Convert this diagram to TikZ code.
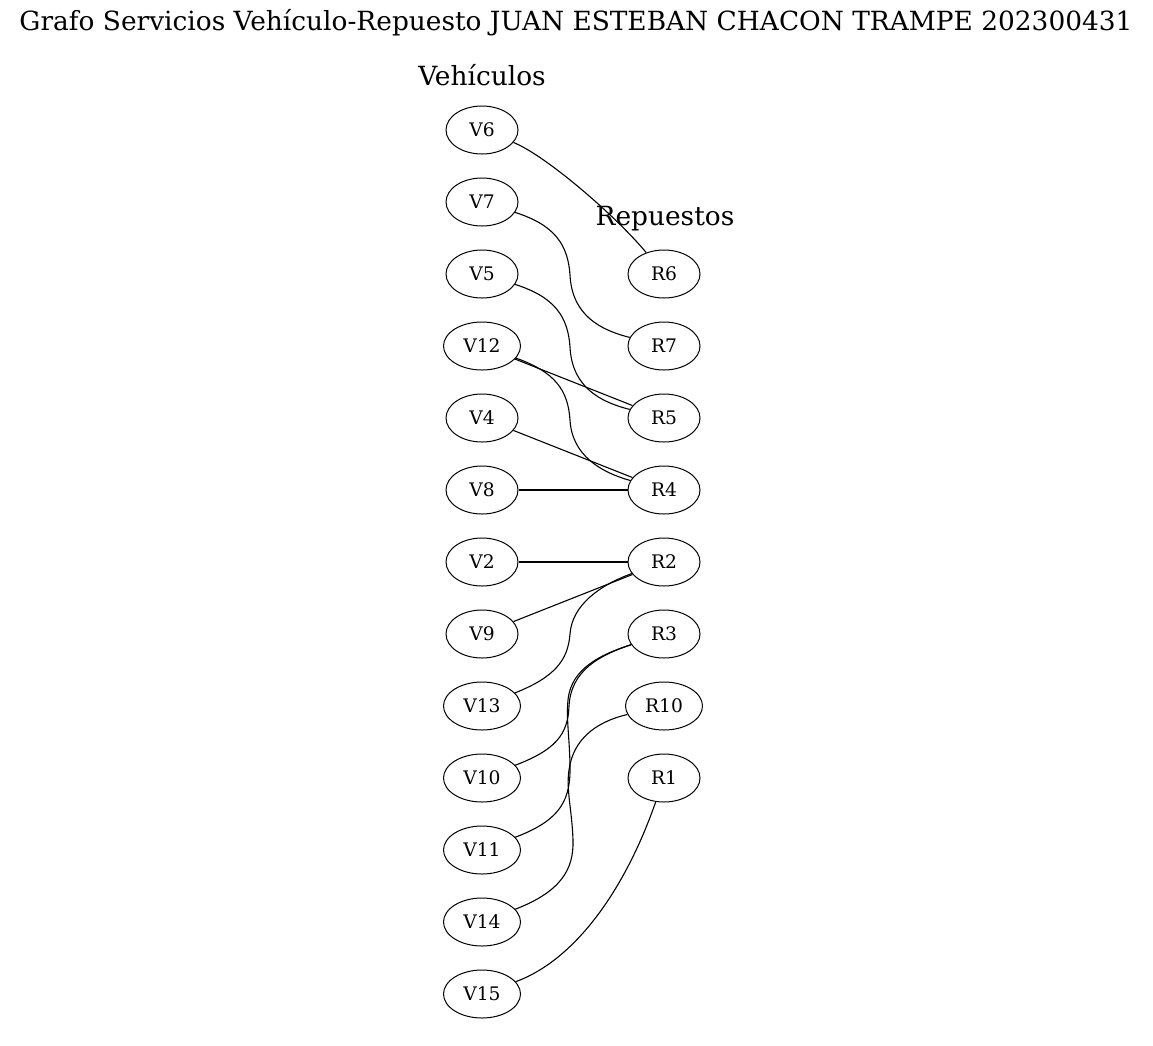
\documentclass[tikz,border=0pt]{standalone}
\usepackage{fontspec}
\setmainfont{DejaVu Serif}
\usetikzlibrary{shapes.geometric}
\tikzset{
  vnode/.style={draw, ellipse, line width=1pt, minimum width=72pt, minimum height=48pt, inner sep=0pt, font=\fontsize{18.67}{20}\selectfont},
  wide/.style={minimum width=77pt},
  ttl/.style={font=\fontsize{26.4}{30}\selectfont, inner sep=0pt},
  edge/.style={line width=1.1pt}
}
\begin{document}
\begin{tikzpicture}[x=1pt,y=-1pt]
\useasboundingbox (0,0) rectangle (1153,1045);
\node[ttl] (title) at (576,23) {Grafo Servicios Vehículo-Repuesto JUAN ESTEBAN CHACON TRAMPE 202300431};
\node[ttl] (vt) at (482,75) {Vehículos};
\node[ttl] (rt) at (665,219) {Repuestos};
% vehicles
\node[vnode] (V6) at (482,130) {V6};
\node[vnode] (V7) at (482,202) {V7};
\node[vnode] (V5) at (482,274) {V5};
\node[vnode,wide] (V12) at (482,346) {V12};
\node[vnode] (V4) at (482,418) {V4};
\node[vnode] (V8) at (482,490) {V8};
\node[vnode] (V2) at (482,562) {V2};
\node[vnode] (V9) at (482,634) {V9};
\node[vnode,wide] (V13) at (482,706) {V13};
\node[vnode,wide] (V10) at (482,778) {V10};
\node[vnode,wide] (V11) at (482,850) {V11};
\node[vnode,wide] (V14) at (482,922) {V14};
\node[vnode,wide] (V15) at (482,994) {V15};
% parts
\node[vnode] (R6) at (664,274) {R6};
\node[vnode] (R7) at (664,346) {R7};
\node[vnode] (R5) at (664,418) {R5};
\node[vnode] (R4) at (664,490) {R4};
\node[vnode] (R2) at (664,562) {R2};
\node[vnode] (R3) at (664,634) {R3};
\node[vnode,wide] (R10) at (664,706) {R10};
\node[vnode] (R1) at (664,778) {R1};
% edges
\draw[edge] (V6) .. controls (545,155) and (615,215) .. (R6);
\draw[edge] (V7) .. controls (555,225) and (568,245) .. (570,275) .. controls (572,315) and (600,330) .. (R7);
\draw[edge] (V5) .. controls (555,297) and (568,317) .. (570,347) .. controls (572,387) and (600,402) .. (R5);
\draw[edge] (V12) -- (R5);
\draw[edge] (V12) .. controls (555,372) and (568,390) .. (570,420) .. controls (572,455) and (600,472) .. (R4);
\draw[edge] (V4) -- (R4);
\draw[edge] (V8) -- (R4);
\draw[edge] (V2) -- (R2);
\draw[edge] (V9) -- (R2);
\draw[edge] (V13) .. controls (555,677) and (568,660) .. (570,634) .. controls (572,605) and (600,585) .. (R2);
\draw[edge] (V10) .. controls (555,750) and (568,735) .. (569,706) .. controls (571,670) and (600,655) .. (R3);
\draw[edge] (V11) .. controls (555,822) and (570,805) .. (570,770) .. controls (570,740) and (566,720) .. (568,700) .. controls (571,668) and (602,654) .. (R3);
\draw[edge] (V14) .. controls (560,892) and (574,870) .. (573,840) .. controls (572,810) and (566,790) .. (569,770) .. controls (573,740) and (595,722) .. (R10);
\draw[edge] (V15) .. controls (575,960) and (625,890) .. (R1);
\end{tikzpicture}
\end{document}
